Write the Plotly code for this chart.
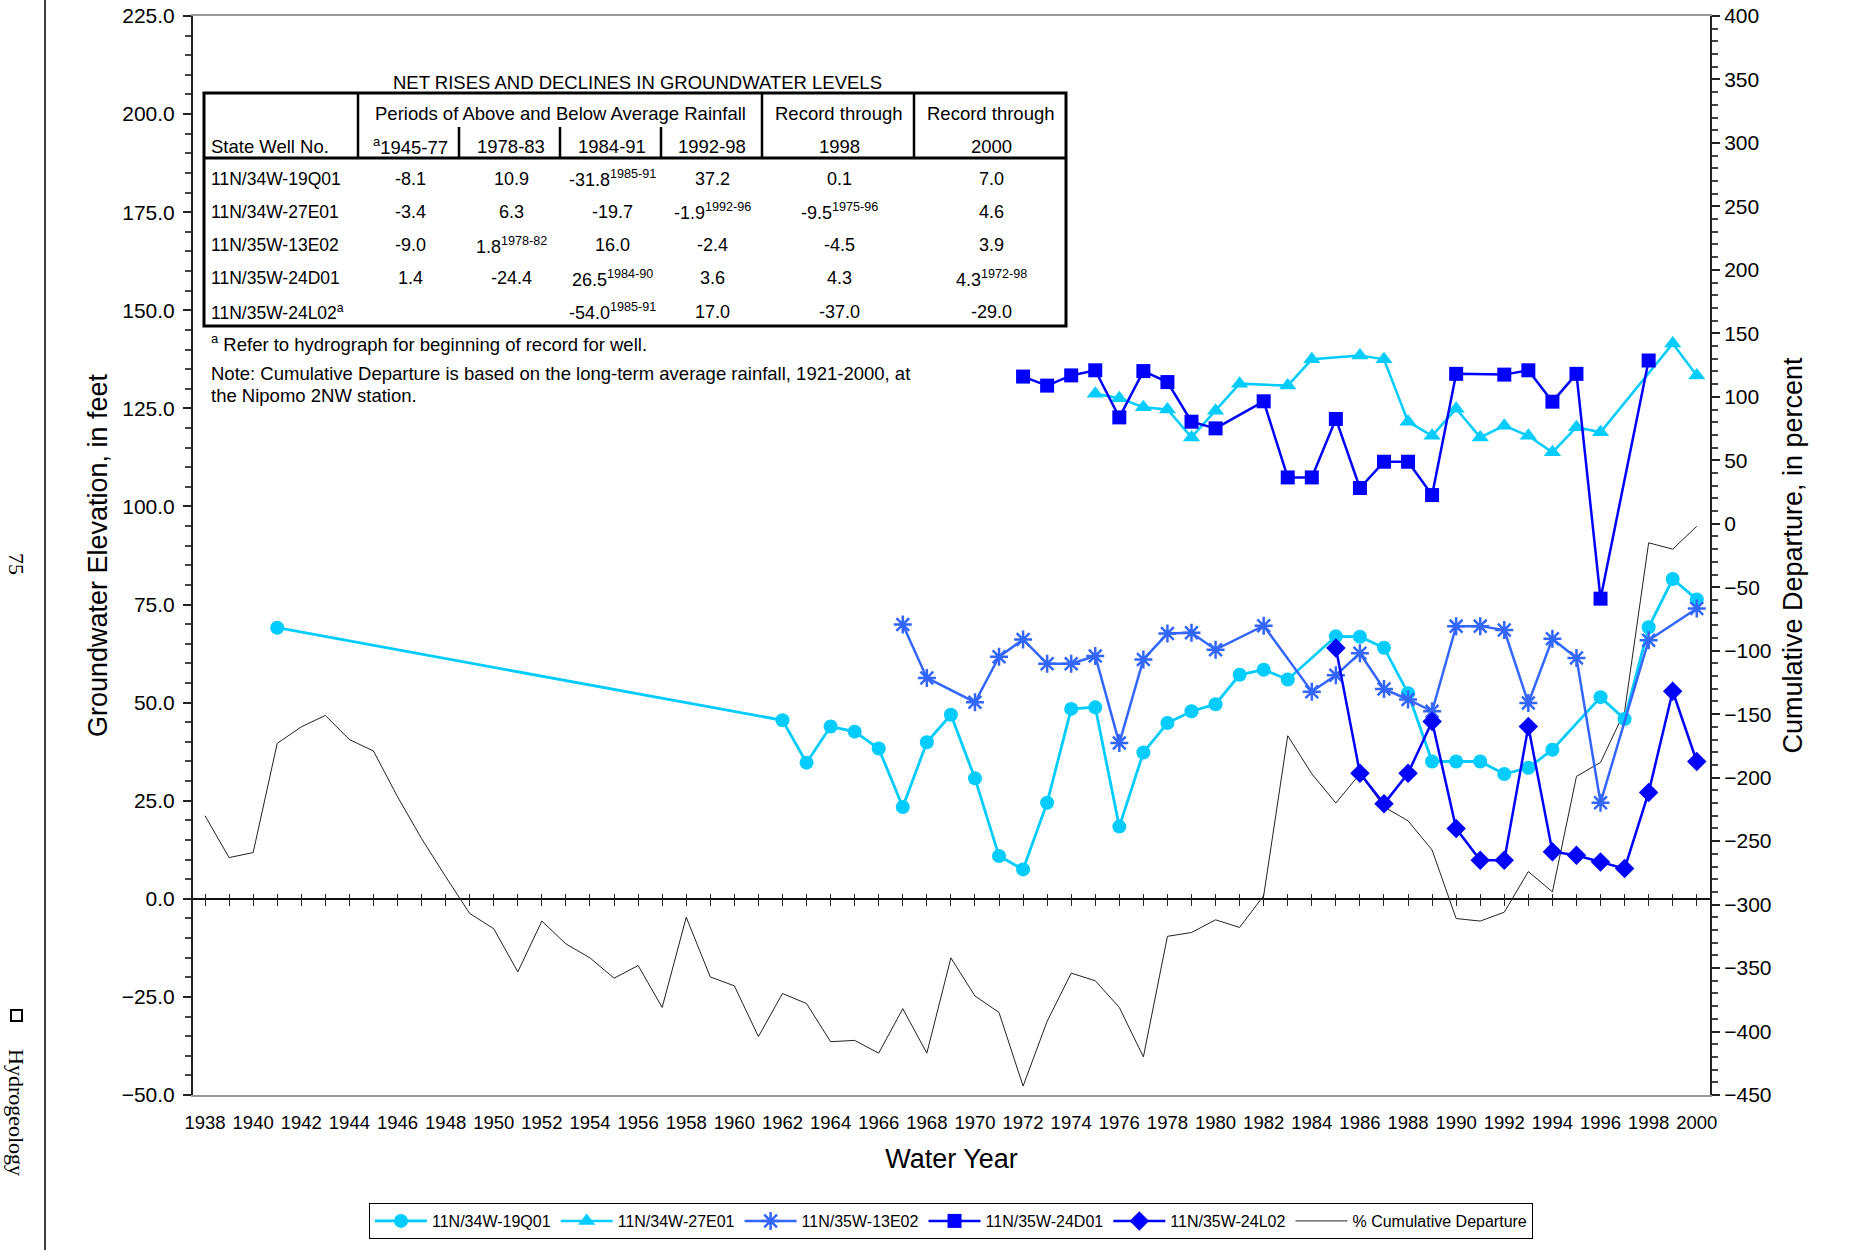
import plotly.graph_objects as go

# ---------------- data ----------------
yr_19Q01 = [1941, 1962, 1963, 1964, 1965, 1966, 1967, 1968, 1969, 1970, 1971, 1972, 1973,
            1974, 1975, 1976, 1977, 1978, 1979, 1980, 1981, 1982, 1983, 1985, 1986, 1987,
            1988, 1989, 1990, 1991, 1992, 1993, 1994, 1996, 1997, 1998, 1999, 2000]
el_19Q01 = [69.1, 45.5, 34.7, 43.9, 42.6, 38.3, 23.4, 39.9, 46.9, 30.7, 10.9, 7.5, 24.5,
            48.4, 48.8, 18.4, 37.3, 44.8, 47.8, 49.6, 57.1, 58.4, 55.9, 66.9, 66.8, 64.0,
            52.4, 35.0, 35.0, 35.0, 31.8, 33.4, 38.0, 51.4, 45.8, 69.2, 81.5, 76.3]

yr_27E01 = [1975, 1976, 1977, 1978, 1979, 1980, 1981, 1983, 1984, 1986, 1987, 1988, 1989,
            1990, 1991, 1992, 1993, 1994, 1995, 1996, 1999, 2000]
el_27E01 = [128.7, 127.6, 125.3, 124.7, 117.6, 124.4, 131.3, 130.8, 137.5, 138.5, 137.5,
            121.6, 118.0, 124.9, 117.6, 120.6, 118.0, 113.8, 120.2, 118.9, 141.5, 133.4]

yr_13E02 = [1967, 1968, 1970, 1971, 1972, 1973, 1974, 1975, 1976, 1977, 1978, 1979, 1980,
            1982, 1984, 1985, 1986, 1987, 1988, 1989, 1990, 1991, 1992, 1993, 1994, 1995,
            1996, 1998, 2000]
el_13E02 = [69.9, 56.3, 50.1, 61.7, 66.1, 59.9, 59.9, 61.9, 39.7, 61.0, 67.6, 67.8, 63.5,
            69.6, 52.8, 57.0, 62.6, 53.5, 50.8, 47.8, 69.5, 69.5, 68.5, 49.9, 66.3, 61.4,
            24.5, 65.9, 74.0]

yr_24D01 = [1972, 1973, 1974, 1975, 1976, 1977, 1978, 1979, 1980, 1982, 1983, 1984, 1985,
            1986, 1987, 1988, 1989, 1990, 1992, 1993, 1994, 1995, 1996, 1998]
el_24D01 = [133.1, 130.8, 133.4, 134.7, 122.7, 134.5, 131.7, 121.6, 119.9, 126.8, 107.4,
            107.4, 122.3, 104.7, 111.4, 111.4, 102.9, 133.8, 133.6, 134.7, 126.7, 133.8,
            76.5, 137.2]

yr_24L02 = [1985, 1986, 1987, 1988, 1989, 1990, 1991, 1992, 1993, 1994, 1995, 1996, 1997,
            1998, 1999, 2000]
el_24L02 = [63.9, 32.0, 24.2, 32.0, 45.2, 17.9, 9.8, 9.8, 43.9, 12.0, 11.1, 9.4, 7.7,
            27.1, 52.9, 35.0]

yr_cum = [1938, 1939, 1940, 1941, 1942, 1943, 1944, 1945, 1946, 1947, 1948, 1949, 1950,
          1951, 1952, 1953, 1954, 1955, 1956, 1957, 1958, 1959, 1960, 1961, 1962, 1963,
          1964, 1965, 1966, 1967, 1968, 1969, 1970, 1971, 1972, 1973, 1974, 1975, 1976,
          1977, 1978, 1979, 1980, 1981, 1982, 1983, 1984, 1985, 1986, 1987, 1988, 1989,
          1990, 1991, 1992, 1993, 1994, 1995, 1996, 1997, 1998, 1999, 2000]
cum_dep = [-230, -263, -259, -173, -160, -151, -170, -179, -215, -248, -278, -307, -319,
           -353, -313, -331, -342, -358, -348, -381, -310, -357, -364, -404, -370, -378,
           -408, -407, -417, -382, -417, -342, -372, -385, -443, -392, -354, -360, -381,
           -420, -325, -322, -312, -318, -293, -167, -197, -220, -197, -223, -234, -257,
           -311, -313, -306, -274, -290, -199, -188, -148, -15, -20, -2]

# table contents
table_title = "NET RISES AND DECLINES IN GROUNDWATER LEVELS"
wells = ["11N/34W-19Q01", "11N/34W-27E01", "11N/35W-13E02", "11N/35W-24D01", "11N/35W-24L02"]
well_notes = ["", "", "", "", "a"]
period_labels = ["1945-77", "1978-83", "1984-91", "1992-98"]
chg_1945_77 = ["-8.1", "-3.4", "-9.0", "1.4", ""]
chg_1978_83 = ["10.9", "6.3", "1.8", "-24.4", ""]
chg_1984_91 = ["-31.8", "-19.7", "16.0", "26.5", "-54.0"]
chg_1992_98 = ["37.2", "-1.9", "-2.4", "3.6", "17.0"]
chg_thru_1998 = ["0.1", "-9.5", "-4.5", "4.3", "-37.0"]
chg_thru_2000 = ["7.0", "4.6", "3.9", "4.3", "-29.0"]
note_1945_77 = ["", "", "", "", ""]
note_1978_83 = ["", "", "1978-82", "", ""]
note_1984_91 = ["1985-91", "", "", "1984-90", "1985-91"]
note_1992_98 = ["", "1992-96", "", "", ""]
note_thru_1998 = ["", "1975-96", "", "", ""]
note_thru_2000 = ["", "", "", "1972-98", ""]

# ---------------- layout constants ----------------
W, H = 1850, 1250
L, R, T, B = 193, 1710, 16, 1095   # plot area in pixels
EL_RANGE = [-50, 225]
CUM_RANGE = [-450, 400]
X_RANGE = [1937.5, 2000.55]
FONT = "Liberation Sans, Arial, sans-serif"
SERIF = "Liberation Serif, Times New Roman, serif"
CYAN = "#00CCFF"
MID = "#3366FF"
BLUE = "#0000FF"


def px(x):
    return (x - L) / (R - L)


def py(y):
    return (B - y) / (B - T)


fig = go.Figure()

fig.add_trace(go.Scatter(x=yr_19Q01, y=el_19Q01, name="11N/34W-19Q01", yaxis="y2",
                         mode="lines+markers", line=dict(color=CYAN, width=2.8),
                         marker=dict(symbol="circle", size=14, color=CYAN)))
fig.add_trace(go.Scatter(x=yr_27E01, y=el_27E01, name="11N/34W-27E01", yaxis="y2",
                         mode="lines+markers", line=dict(color=CYAN, width=2.5),
                         marker=dict(symbol="triangle-up", size=15, color=CYAN)))
fig.add_trace(go.Scatter(x=yr_13E02, y=el_13E02, name="11N/35W-13E02", yaxis="y2",
                         mode="lines+markers", line=dict(color=MID, width=2.5),
                         marker=dict(symbol="asterisk-open", size=15, color=MID,
                                     line=dict(color=MID, width=2.5))))
fig.add_trace(go.Scatter(x=yr_24D01, y=el_24D01, name="11N/35W-24D01", yaxis="y2",
                         mode="lines+markers", line=dict(color=BLUE, width=2.5),
                         marker=dict(symbol="square", size=14, color=BLUE)))
fig.add_trace(go.Scatter(x=yr_24L02, y=el_24L02, name="11N/35W-24L02",
                         xaxis="x2", yaxis="y2",
                         mode="lines+markers", line=dict(color=BLUE, width=2.5),
                         marker=dict(symbol="diamond", size=15, color=BLUE)))
fig.add_trace(go.Scatter(x=yr_cum, y=cum_dep, name="% Cumulative Departure", yaxis="y",
                         mode="lines", line=dict(color="#222222", width=1)))

tick_font = dict(family=FONT, size=21, color="black")
title_font = dict(family=FONT, size=27, color="black")
zero_frac = (0 - EL_RANGE[0]) / (EL_RANGE[1] - EL_RANGE[0])

fig.update_layout(
    width=W, height=H,
    margin=dict(l=L, r=W - R, t=T, b=H - B, pad=0, autoexpand=False),
    paper_bgcolor="white", plot_bgcolor="white",
    font=dict(family=FONT, color="black"),
    showlegend=True,
    legend=dict(orientation="h", x=px(369), y=py(1203), xanchor="left", yanchor="top",
                bordercolor="black", borderwidth=1, font=dict(family=FONT, size=16),
                itemwidth=52, bgcolor="white", traceorder="normal"),
    xaxis=dict(range=X_RANGE, tick0=1938, dtick=2, ticks="", showgrid=False,
               zeroline=False, showline=True, linecolor="#999999", linewidth=2,
               mirror=True, automargin=False,
               tickfont=dict(family=FONT, size=18.5, color="black"),
               ticklabelstandoff=10,
               title=dict(text="Water Year", font=title_font, standoff=17)),
    # base axis: cumulative departure (right)
    yaxis=dict(range=CUM_RANGE, side="right", dtick=50, tick0=0, ticks="outside",
               ticklen=8, tickwidth=1.5, tickcolor="#222222", automargin=False,
               minor=dict(dtick=10, ticks="outside", ticklen=6, tickcolor="#444444"),
               showgrid=False, zeroline=False, showline=True, linecolor="#222222",
               linewidth=2, tickfont=tick_font, ticklabelstandoff=0,
               ticklabeloverflow="allow",
               title=dict(text="Cumulative Departure, in percent", font=title_font,
                          standoff=13)),
    # groundwater elevation (left)
    yaxis2=dict(range=EL_RANGE, overlaying="y", side="left", anchor="x", dtick=25,
                tick0=0, tickformat=".1f", ticks="outside", ticklen=8, tickwidth=1.5,
                tickcolor="#222222", automargin=False,
                minor=dict(dtick=5, ticks="outside", ticklen=6, tickcolor="#444444"),
                showgrid=False, zeroline=True, zerolinecolor="#111111",
                zerolinewidth=1.5, showline=True, linecolor="#222222",
                linewidth=2, tickfont=tick_font, ticklabelstandoff=4,
                ticklabeloverflow="allow",
                title=dict(text="Groundwater Elevation, in feet", font=title_font,
                           standoff=6)),
    # inner halves of the major ticks (crossing ticks)
    yaxis3=dict(range=EL_RANGE, overlaying="y", side="left", anchor="x", dtick=25,
                tick0=0, ticks="inside", ticklen=6, tickwidth=1.5, tickcolor="#222222",
                showticklabels=False, showgrid=False, zeroline=False, showline=False,
                automargin=False),
    yaxis4=dict(range=CUM_RANGE, overlaying="y", side="right", anchor="x", dtick=50,
                tick0=0, ticks="inside", ticklen=6, tickwidth=1.5, tickcolor="#222222",
                showticklabels=False, showgrid=False, zeroline=False, showline=False,
                automargin=False),
    # yearly ticks crossing the zero-elevation line
    xaxis2=dict(range=X_RANGE, overlaying="x", anchor="free", side="bottom",
                position=zero_frac + 6 / (B - T),
                tick0=1938, dtick=1, ticks="outside", ticklen=12, tickwidth=1.2,
                tickcolor="#222222", showticklabels=False, showgrid=False,
                zeroline=False, showline=False, automargin=False),
)

shapes = []
annotations = []


def text(x, y, s, size=18.5, xanchor="center", family=FONT, angle=0):
    annotations.append(dict(x=px(x), y=py(y), xref="paper", yref="paper", text=s,
                            showarrow=False, xanchor=xanchor, yanchor="middle",
                            textangle=angle,
                            font=dict(family=family, size=size, color="black")))


def hline(x0, x1, y, w):
    shapes.append(dict(type="line", xref="paper", yref="paper", x0=px(x0), x1=px(x1),
                       y0=py(y), y1=py(y), line=dict(color="black", width=w)))


def vline(x, y0, y1, w):
    shapes.append(dict(type="line", xref="paper", yref="paper", x0=px(x), x1=px(x),
                       y0=py(y0), y1=py(y1), line=dict(color="black", width=w)))


# ---- table frame ----
TX0, TX1, TY0, TY1 = 204, 1066, 93, 326
HDR = 158
shapes.append(dict(type="rect", xref="paper", yref="paper", x0=px(TX0), x1=px(TX1),
                   y0=py(TY1), y1=py(TY0), line=dict(color="black", width=3),
                   fillcolor="rgba(0,0,0,0)"))
hline(TX0, TX1, HDR, 3)
for cx in [358, 762, 914]:
    vline(cx, TY0, HDR, 2.5)
for cx in [459, 560, 661]:
    vline(cx, 127, HDR, 2.5)

# ---- table text ----
text(637, 82, table_title)
text(209, 146, "State Well No.", xanchor="left")
text(560, 114, "Periods of Above and Below Average Rainfall")
text(839, 114, "Record through")
text(991, 114, "Record through")
text(839, 146, "1998")
text(991, 146, "2000")
col_x = [410, 511, 612, 712, 839, 991]
for i, lab in enumerate(period_labels):
    text(col_x[i], 146, ("<sup>a</sup>" if i == 0 else "") + lab)

row_y = [179, 212, 245.5, 278.5, 311.5]
columns = [(chg_1945_77, note_1945_77), (chg_1978_83, note_1978_83),
           (chg_1984_91, note_1984_91), (chg_1992_98, note_1992_98),
           (chg_thru_1998, note_thru_1998), (chg_thru_2000, note_thru_2000)]
for r, well in enumerate(wells):
    s = well + (f"<sup>{well_notes[r]}</sup>" if well_notes[r] else "")
    text(209, row_y[r], s, size=17.5, xanchor="left")
    for c, (vals, notes) in enumerate(columns):
        if vals[r]:
            s = vals[r] + (f"<sup>{notes[r]}</sup>" if notes[r] else "")
            text(col_x[c], row_y[r], s, size=18)

text(209, 343, "<sup>a</sup> Refer to hydrograph for beginning of record for well.",
     xanchor="left")
text(209, 373, "Note: Cumulative Departure is based on the long-term average rainfall, "
     "1921-2000, at", xanchor="left")
text(209, 396, "the Nipomo 2NW station.", xanchor="left")

# ---- page margin decorations ----
vline(45, 0, H, 1.5)
text(17, 564, "75", size=22, family=SERIF, angle=90)
shapes.append(dict(type="rect", xref="paper", yref="paper", x0=px(11), x1=px(22),
                   y0=py(1021), y1=py(1010), line=dict(color="black", width=2)))
text(17, 1112, "Hydrogeology", size=22, family=SERIF, angle=90)

fig.update_layout(shapes=shapes, annotations=annotations)

# let the figure fill the window from its top-left corner (no default body margin)
fig.write_html("out.html", config={"displayModeBar": False},
               post_script="document.body.style.margin = '0px';")
